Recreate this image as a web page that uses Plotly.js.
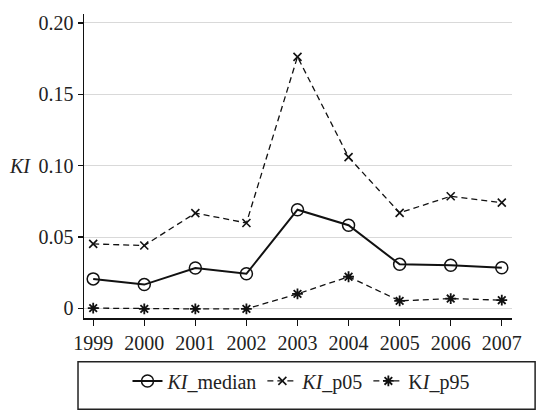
<!DOCTYPE html>
<html>
<head>
<meta charset="utf-8">
<script src="https://cdn.plot.ly/plotly-3.0.1.min.js"></script>
<style>
html,body{margin:0;padding:0;background:#fff;}
#chart{width:546px;height:412px;}
#chart svg text{font-family:'Times New Roman','Liberation Serif',serif !important;}
</style>
</head>
<body>
<div id="chart"></div>
<script>
const years = [1999, 2000, 2001, 2002, 2003, 2004, 2005, 2006, 2007];
const kiMedian = [0.0207, 0.0167, 0.0283, 0.0243, 0.0692, 0.0583, 0.0309, 0.0303, 0.0285];
const kiP05 = [0.0452, 0.0441, 0.0668, 0.0599, 0.1763, 0.1060, 0.0670, 0.0786, 0.0741];
const kiP95 = [0.0002, -0.0003, -0.0003, -0.0003, 0.0102, 0.0222, 0.0053, 0.0069, 0.0058];
const yTickVals = [0, 0.05, 0.10, 0.15, 0.20];
const yTickText = ['0', '0.05', '0.10', '0.15', '0.20'];
const seriesNames = ['<i>KI</i>_median', '<i>KI</i>_p05', 'K<i>I</i>_p95'];

const serifFamily = 'Times New Roman';

const traces = [
  {x: years, y: kiMedian, name: seriesNames[0], mode: 'lines+markers',
   line: {color: '#111', width: 2},
   marker: {symbol: 'circle-open', size: 12, color: '#111', line: {width: 1.5, color: '#111'}}},
  {x: years, y: kiP05, name: seriesNames[1], mode: 'lines+markers',
   line: {color: '#111', width: 1.3, dash: '6px,4px'},
   marker: {symbol: 'x-thin-open', size: 8, color: '#111', line: {width: 1.6, color: '#111'}}},
  {x: years, y: kiP95, name: seriesNames[2], mode: 'lines+markers',
   line: {color: '#111', width: 1.3, dash: '6px,4px'},
   marker: {symbol: 'asterisk-open', size: 9, color: '#111', line: {width: 1.8, color: '#111'}}}
];

const layout = {
  width: 546, height: 412,
  margin: {l: 84, r: 34, t: 14, b: 79},
  paper_bgcolor: '#fff', plot_bgcolor: '#fff',
  font: {family: serifFamily, size: 20},
  showlegend: true,
  legend: {orientation: 'h', x: 0.507, xanchor: 'center', y: -0.207, yanchor: 'middle',
           font: {family: serifFamily, size: 20, color: '#222'}, bgcolor: 'rgba(0,0,0,0)',
           borderwidth: 0},
  xaxis: {range: [1998.82, 2007.2], tickvals: years, ticktext: years.map(String),
          showgrid: false, zeroline: false, showline: true, linecolor: '#111', linewidth: 1.5,
          ticks: 'outside', ticklen: 6, tickcolor: '#111', tickwidth: 1.2,
          tickfont: {family: serifFamily, size: 20, color: '#222'}},
  yaxis: {range: [-0.0067, 0.2063], tickvals: yTickVals, ticktext: yTickText,
          showgrid: true, gridcolor: '#d9d9d9', gridwidth: 1, zeroline: false,
          showline: true, linecolor: '#111', linewidth: 1.5,
          ticks: 'outside', ticklen: 5, tickcolor: '#111', tickwidth: 1.2,
          tickfont: {family: serifFamily, size: 20, color: '#222'}},
  annotations: [{text: '<i>KI</i>', xref: 'paper', yref: 'y', x: -0.18, xanchor: 'left', y: 0.10,
                 showarrow: false, font: {family: serifFamily, size: 20, color: '#222'}}],
  shapes: [{type: 'rect', xref: 'paper', yref: 'paper', x0: -0.014, x1: 1.054, y0: -0.144, y1: -0.3,
            line: {color: '#222', width: 1.5}, fillcolor: 'rgba(0,0,0,0)'}]
};

Plotly.newPlot('chart', traces, layout, {staticPlot: true});
</script>
</body>
</html>
